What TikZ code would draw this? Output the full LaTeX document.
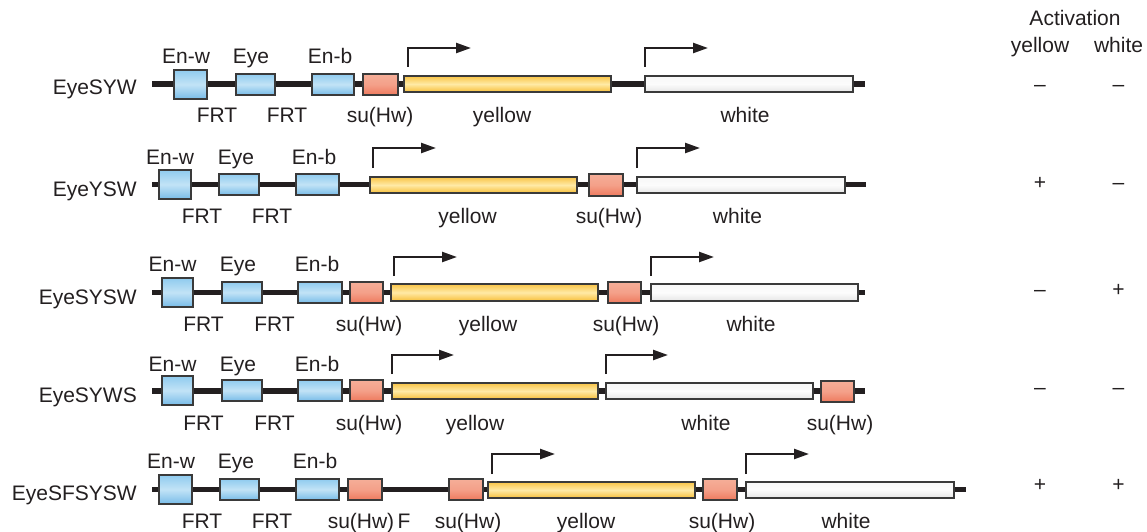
\documentclass[tikz,border=0pt]{standalone}
\usepackage{fontspec}
\setmainfont{Liberation Sans}
\usetikzlibrary{arrows.meta}
\definecolor{ink}{HTML}{231F20}
\definecolor{edge}{HTML}{3A3A3A}
\definecolor{blueT}{HTML}{8FCBEF}
\definecolor{blueM}{HTML}{C2E3F6}
\definecolor{blueB}{HTML}{78BCE8}
\definecolor{redT}{HTML}{F5AE98}
\definecolor{redM}{HTML}{F4A089}
\definecolor{redB}{HTML}{EE7A5E}
\definecolor{yelT}{HTML}{F9C446}
\definecolor{yelM}{HTML}{FFEAA6}
\definecolor{yelB}{HTML}{F7BF3A}
\definecolor{whT}{HTML}{F7F7F7}
\definecolor{whM}{HTML}{FCFCFC}
\definecolor{whB}{HTML}{E6E6E6}
\tikzset{
  blk/.style={draw=edge, line width=1.3pt, inner sep=0pt, outer sep=0pt},
  bluebox/.style={blk, top color=blueT, bottom color=blueB, middle color=blueM},
  redbox/.style={blk, top color=redT, bottom color=redB, middle color=redM},
  yelbox/.style={blk, top color=yelT, bottom color=yelB, middle color=yelM},
  whbox/.style={blk, top color=whT, bottom color=whB, middle color=whM},
  backbone/.style={draw=ink, line width=5.5pt},
  prom/.style={draw=ink, line width=2.3pt, -{Triangle[length=15pt,width=10pt]}},
  lbl/.style={font=\fontsize{21}{24}\selectfont, text=ink, inner sep=0pt, anchor=base},
  rowname/.style={lbl, anchor=base east},
}
\newcommand\elem[6]{%
  \pgfmathsetmacro\elX{(#3+#4)/2}\pgfmathsetmacro\elY{(#5+#6)/2}%
  \pgfmathsetmacro\elW{#4-#3}\pgfmathsetmacro\elH{#6-#5}%
  \node[#2, minimum width=\elW pt, minimum height=\elH pt] (#1) at (\elX,\elY) {};}
\begin{document}
\begin{tikzpicture}[x=1pt,y=-1pt]
\useasboundingbox (0,0) rectangle (1147,532);

% ---------- header ----------
\node[lbl] (hact) at (1075,26) {Activation};
\node[lbl] (hyel) at (1040,53) {yellow};
\node[lbl] (hwht) at (1118.5,53) {white};

% ---------- Row 1: EyeSYW ----------
\coordinate (r1s) at (152,84); \coordinate (r1e) at (865,84);
\draw[backbone] (r1s) -- (r1e);
\elem{r1ew}{bluebox}{174}{207}{70}{99}
\elem{r1ey}{bluebox}{236}{275}{74}{95}
\elem{r1eb}{bluebox}{312}{354}{74}{95}
\elem{r1s1}{redbox}{363}{398}{74}{95}
\elem{r1y}{yelbox}{404}{611}{76}{92}
\elem{r1w}{whbox}{645}{853}{76}{92}
\draw[prom] ([xshift=4pt,yshift=9pt]r1y.north west) -- ++(0,-19) -- ++(63,0);
\draw[prom] ([yshift=9pt]r1w.north west) -- ++(0,-19) -- ++(63,0);
\node[rowname] (n1) at (137,95) {EyeSYW};
\node[lbl] at (186,63.3) {En-w};
\node[lbl] at (251,63.3) {Eye};
\node[lbl] at (330,63.3) {En-b};
\node[lbl] at (217,122.7) {FRT};
\node[lbl] at (287,122.7) {FRT};
\node[lbl] at (380,122.7) {su(Hw)};
\node[lbl] at (502,122.7) {yellow};
\node[lbl] at (745,122.7) {white};
\node[lbl] at (1040,91.5) {–};
\node[lbl] at (1118.5,91.5) {–};

% ---------- Row 2: EyeYSW ----------
\coordinate (r2s) at (152,184.5); \coordinate (r2e) at (866,184.5);
\draw[backbone] (r2s) -- (r2e);
\elem{r2ew}{bluebox}{159}{191}{170}{199}
\elem{r2ey}{bluebox}{219}{259}{174}{195}
\elem{r2eb}{bluebox}{296}{339}{174}{195}
\elem{r2y}{yelbox}{370}{577}{177}{193}
\elem{r2s1}{redbox}{589}{623}{174}{196}
\elem{r2w}{whbox}{637}{845}{177}{193}
\draw[prom] ([xshift=3pt,yshift=9pt]r2y.north west) -- ++(0,-20) -- ++(63,0);
\draw[prom] ([yshift=9pt]r2w.north west) -- ++(0,-20) -- ++(63,0);
\node[rowname] (n2) at (137,196) {EyeYSW};
\node[lbl] at (170,164) {En-w};
\node[lbl] at (236,164) {Eye};
\node[lbl] at (314,164) {En-b};
\node[lbl] at (202,223) {FRT};
\node[lbl] at (272,223) {FRT};
\node[lbl] at (467.5,223) {yellow};
\node[lbl] at (609,223) {su(Hw)};
\node[lbl] at (737.5,223) {white};
\node[lbl] at (1040,189.8) {+};
\node[lbl] at (1118.5,189.8) {–};

% ---------- Row 3: EyeSYSW ----------
\coordinate (r3s) at (152,292.7); \coordinate (r3e) at (865,292.7);
\draw[backbone] (r3s) -- (r3e);
\elem{r3ew}{bluebox}{162}{193}{278}{307}
\elem{r3ey}{bluebox}{222}{262}{282}{303}
\elem{r3eb}{bluebox}{298}{342}{282}{303}
\elem{r3s1}{redbox}{350}{383}{282}{303}
\elem{r3y}{yelbox}{391}{598}{284}{301}
\elem{r3s2}{redbox}{608}{641}{282}{303}
\elem{r3w}{whbox}{651}{858}{284}{301}
\draw[prom] ([xshift=3pt,yshift=8pt]r3y.north west) -- ++(0,-19) -- ++(63,0);
\draw[prom] ([yshift=8pt]r3w.north west) -- ++(0,-19) -- ++(63,0);
\node[rowname] (n3) at (137,304) {EyeSYSW};
\node[lbl] at (172.5,271.7) {En-w};
\node[lbl] at (238,271.7) {Eye};
\node[lbl] at (317,271.7) {En-b};
\node[lbl] at (203.5,331.7) {FRT};
\node[lbl] at (274.5,331.7) {FRT};
\node[lbl] at (369,331.7) {su(Hw)};
\node[lbl] at (488,331.7) {yellow};
\node[lbl] at (626,331.7) {su(Hw)};
\node[lbl] at (751,331.7) {white};
\node[lbl] at (1040,296.5) {–};
\node[lbl] at (1118.5,296.5) {+};

% ---------- Row 4: EyeSYWS ----------
\coordinate (r4s) at (152,391); \coordinate (r4e) at (865,391);
\draw[backbone] (r4s) -- (r4e);
\elem{r4ew}{bluebox}{162}{193}{376}{405}
\elem{r4ey}{bluebox}{222}{262}{380}{401}
\elem{r4eb}{bluebox}{298}{342}{380}{401}
\elem{r4s1}{redbox}{350}{383}{380}{401}
\elem{r4y}{yelbox}{392}{598}{383}{399}
\elem{r4w}{whbox}{606}{813}{383}{399}
\elem{r4s2}{redbox}{821}{854}{381}{402}
\draw[prom] ([yshift=9pt]r4y.north west) -- ++(0,-19) -- ++(62,0);
\draw[prom] ([yshift=9pt]r4w.north west) -- ++(0,-19) -- ++(62,0);
\node[rowname] (n4) at (137,402.3) {EyeSYWS};
\node[lbl] at (172.5,371.7) {En-w};
\node[lbl] at (238,371.7) {Eye};
\node[lbl] at (317,371.7) {En-b};
\node[lbl] at (203.5,430) {FRT};
\node[lbl] at (274.5,430) {FRT};
\node[lbl] at (369,430) {su(Hw)};
\node[lbl] at (475,430) {yellow};
\node[lbl] at (706,430) {white};
\node[lbl] at (840,430) {su(Hw)};
\node[lbl] at (1040,394.8) {–};
\node[lbl] at (1118.5,394.8) {–};

% ---------- Row 5: EyeSFSYSW ----------
\coordinate (r5s) at (152,489.5); \coordinate (r5e) at (966,489.5);
\draw[backbone] (r5s) -- (r5e);
\elem{r5ew}{bluebox}{159}{192}{475}{504}
\elem{r5ey}{bluebox}{220}{259}{479}{500}
\elem{r5eb}{bluebox}{296}{339}{479}{500}
\elem{r5s1}{redbox}{348}{382}{479}{500}
\elem{r5s2}{redbox}{449}{483}{479}{500}
\elem{r5y}{yelbox}{488}{695}{482}{498}
\elem{r5s3}{redbox}{703}{737}{479}{500}
\elem{r5w}{whbox}{746}{954}{482}{498}
\draw[prom] ([xshift=4pt,yshift=8pt]r5y.north west) -- ++(0,-20) -- ++(63,0);
\draw[prom] ([yshift=8pt]r5w.north west) -- ++(0,-20) -- ++(63,0);
\node[rowname] (n5) at (137,500) {EyeSFSYSW};
\node[lbl] at (171,468.3) {En-w};
\node[lbl] at (236,468.3) {Eye};
\node[lbl] at (315,468.3) {En-b};
\node[lbl] at (202,528.5) {FRT};
\node[lbl] at (272,528.5) {FRT};
\node[lbl] at (361,528.5) {su(Hw)};
\node[lbl] at (404,528.5) {F};
\node[lbl] at (468,528.5) {su(Hw)};
\node[lbl] at (586,528.5) {yellow};
\node[lbl] at (722,528.5) {su(Hw)};
\node[lbl] at (846,528.5) {white};
\node[lbl] at (1040,491.5) {+};
\node[lbl] at (1118.5,491.5) {+};
\end{tikzpicture}
\end{document}
